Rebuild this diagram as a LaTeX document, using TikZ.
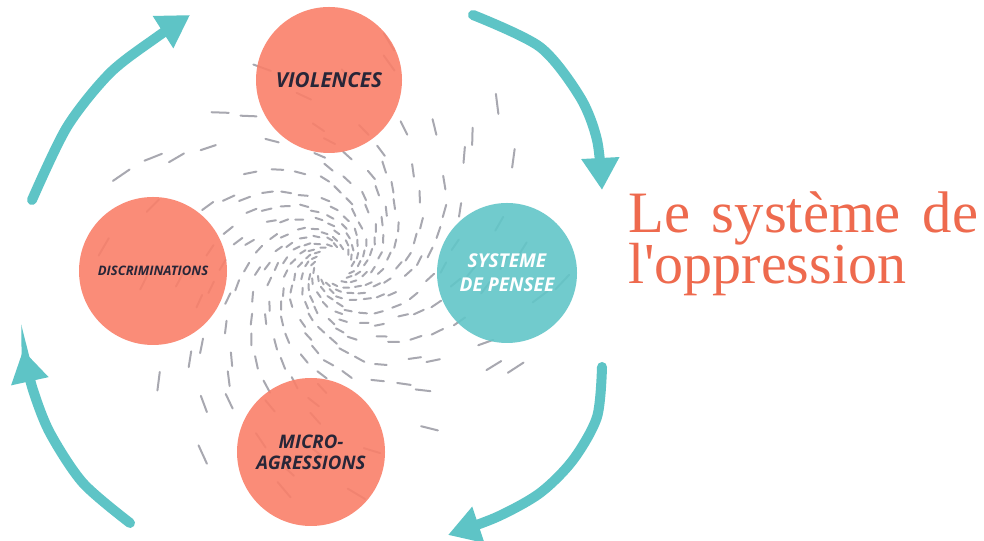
\documentclass[tikz,border=0pt]{standalone}
\usepackage{fontspec}
\setmainfont{Liberation Serif}
\newfontfamily\titlefont{Liberation Serif}[Ligatures=TeXOff]
\newfontfamily\labfont{Open Sans}
\usetikzlibrary{arrows.meta}
\definecolor{coral}{RGB}{250,128,106}
\definecolor{tealc}{RGB}{98,198,200}
\definecolor{tealarr}{RGB}{94,196,198}
\definecolor{titlec}{RGB}{238,106,78}
\definecolor{labc}{RGB}{40,38,56}
\definecolor{dashc}{RGB}{168,168,176}
\begin{document}
\begin{tikzpicture}[x=0.75pt,y=0.75pt,
  swirl/.style={line width=1.5pt,draw=dashc,line cap=round},
  cyc/.style={line width=7.5pt,draw=tealarr,line cap=round,-{Triangle[length=24pt,width=27pt,fill=tealarr]}},
  bubble/.style={circle,inner sep=0pt,fill opacity=0.9,text opacity=1,align=center,font=\labfont\bfseries\itshape},
]
\fill[white] (0,0) rectangle (984,541);
\useasboundingbox (0,0) rectangle (984,541);
% swirl of dashes
\pgfmathsetseed{11}
\begin{scope}[shift={(333,276)}]
\foreach \k in {0,...,17}{
  \foreach \r in {20,26.2,32.9,40.2,48.1,56.6,65.8,75.7,86.4,97.9,110.4,123.9,138.5,154.3,171.3,189.7,209.6,230}{
    \pgfmathsetmacro\th{\k*20 + 82*ln(\r/20) + 5*rand}
    \pgfmathsetmacro\hl{(0.07*\r+4)/2}
    \pgfmathsetmacro\dir{\th + 55 + 10*rand}
    \pgfmathsetmacro\back{\dir+180}
    \pgfmathtruncatemacro\keep{(rnd > (\r-100)/230) ? 1 : 0}
    \ifnum\keep=1
      \draw[swirl] (\th:\r) ++(\back:\hl) -- ++(\dir:2*\hl);
    \fi
  }
}
\end{scope}
% circles
\node[bubble,fill=coral,minimum size=109.5pt,font=\labfont\bfseries\itshape\fontsize{15.5pt}{18pt}\selectfont,text=labc] (viol) at (329,461) {VIOLENCES};
\node[bubble,fill=coral,minimum size=111pt,font=\labfont\bfseries\itshape\fontsize{9.8pt}{11pt}\selectfont,text=labc] (disc) at (153,270) {DISCRIMINATIONS};
\node[bubble,fill=tealc,minimum size=105pt,font=\labfont\bfseries\itshape\fontsize{14.3pt}{18pt}\selectfont,text=white] (syst) at (507,268) {SYSTEME\\DE PENSEE};
\node[bubble,fill=coral,minimum size=111pt,font=\labfont\bfseries\itshape\fontsize{14pt}{16pt}\selectfont,text=labc] (micro) at (311,89) {MICRO-\\AGRESSIONS};
% arrows
\draw[cyc] plot[smooth] coordinates {(32,341) (67,414) (110,468) (157,504) (190,526)};
\draw[cyc] plot[smooth] coordinates {(473,526) (540,494) (580,444) (597,401) (602,351)};
\draw[cyc] plot[smooth] coordinates {(602,174) (597,124) (573,81) (540,48) (497,24) (448,6)};
\draw[cyc] plot[smooth] coordinates {(130,18) (83,58) (50,108) (33,151) (23,191)};
% title
\node[anchor=base west,inner sep=0pt,text=titlec,font=\titlefont\fontsize{44pt}{50pt}\selectfont] (t1) at (628,308) {\makebox[262.5pt][s]{Le système de}};
\node[anchor=base west,inner sep=0pt,text=titlec,font=\titlefont\fontsize{43.5pt}{50pt}\selectfont] (t2) at (628,257) {l'oppression};
\end{tikzpicture}
\end{document}
